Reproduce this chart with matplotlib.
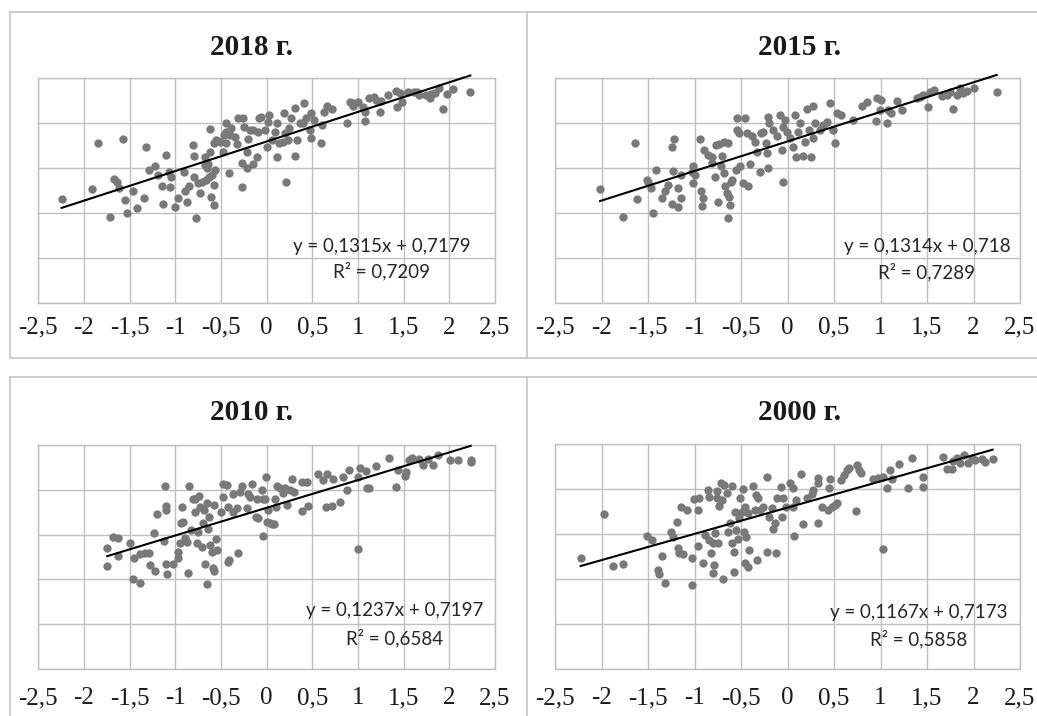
import numpy as np
import matplotlib.pyplot as plt
from matplotlib.lines import Line2D

plt.rcParams['font.family'] = ['Liberation Serif', 'DejaVu Serif']

# axis ticks (the source uses comma decimals)
x_ticks = [-2.5, -2, -1.5, -1, -0.5, 0, 0.5, 1, 1.5, 2, 2.5]
x_tick_labels = ['-2,5', '-2', '-1,5', '-1', '-0,5', '0', '0,5', '1', '1,5', '2', '2,5']
y_grid = [0, 0.2, 0.4, 0.6, 0.8, 1.0]

titles = ['2018 г.', '2015 г.', '2010 г.', '2000 г.']
slopes = [0.1315, 0.1314, 0.1237, 0.1167]
intercepts = [0.7179, 0.718, 0.7197, 0.7173]
eq_texts = ['y = 0,1315x + 0,7179', 'y = 0,1314x + 0,718',
            'y = 0,1237x + 0,7197', 'y = 0,1167x + 0,7173']
r2_texts = ['R² = 0,7209', 'R² = 0,7289', 'R² = 0,6584', 'R² = 0,5858']

x_2018 = [-2.245, -1.91, -1.85, -1.715, -1.67, -1.635, -1.62, -1.577, -1.55, -1.53,
          -1.46, -1.42, -1.34, -1.32, -1.29, -1.22, -1.19, -1.15, -1.14, -1.10,
          -1.066, -1.06, -1.05, -1.0, -0.97, -0.90, -0.89, -0.87, -0.854, -0.81,
          -0.80, -0.80, -0.77, -0.756, -0.73, -0.71, -0.68, -0.68, -0.66, -0.64,
          -0.62, -0.62, -0.61, -0.60, -0.58, -0.58, -0.565, -0.555, -0.58, -0.51,
          -0.475, -0.45, -0.44, -0.44, -0.41, -0.40, -0.32, -0.31, -0.27, -0.27,
          -0.26, -0.25, -0.22, -0.21, -0.18, -0.15, -0.146, -0.11, -0.09, -0.08,
          -0.06, -0.02, 0.0, 0.02, 0.03, 0.055, 0.09, 0.11, 0.117, 0.175,
          0.19, 0.20, 0.21, 0.23, 0.27, 0.31, 0.31, 0.33, 0.36, 0.41,
          0.43, 0.47, 0.49, 0.49, 0.52, 0.59, 0.61, 0.63, 0.66, 0.71,
          0.876, 0.91, 0.94, 1.0, 1.06, 1.08, 1.08, 1.12, 1.17, 1.20,
          1.24, 1.33, 1.42, 1.43, 1.46, 1.48, 1.61, 1.67, 1.75, 1.79,
          1.84, 1.89, 1.93, 1.97, 2.04, 2.23,
          -0.53, -0.47, -0.39, -0.35, -0.2, 0.13, 0.25, 0.4, 1.55, 1.8,
          1.65, 1.25, 0.95, -0.65, -0.63]
y_2018 = [0.463, 0.506, 0.71, 0.382, 0.552, 0.54, 0.51, 0.729, 0.46, 0.402,
          0.497, 0.423, 0.467, 0.692, 0.59, 0.611, 0.567, 0.522, 0.439, 0.658,
          0.584, 0.515, 0.559, 0.426, 0.466, 0.581, 0.496, 0.448, 0.521, 0.703,
          0.655, 0.562, 0.377, 0.533, 0.488, 0.536, 0.651, 0.614, 0.547, 0.618,
          0.772, 0.673, 0.473, 0.57, 0.436, 0.525, 0.589, 0.725, 0.71, 0.717,
          0.673, 0.713, 0.799, 0.762, 0.58, 0.747, 0.706, 0.821, 0.624, 0.515,
          0.821, 0.784, 0.673, 0.599, 0.769, 0.617, 0.769, 0.651, 0.762, 0.821,
          0.828, 0.769, 0.695, 0.806, 0.836, 0.725, 0.762, 0.651, 0.799, 0.717,
          0.843, 0.754, 0.54, 0.725, 0.821, 0.654, 0.865, 0.725, 0.799, 0.888,
          0.821, 0.769, 0.843, 0.732, 0.814, 0.71, 0.791, 0.85, 0.876, 0.861,
          0.799, 0.895, 0.876, 0.895, 0.873, 0.85, 0.809, 0.91, 0.917, 0.902,
          0.85, 0.925, 0.944, 0.87, 0.932, 0.895, 0.939, 0.925, 0.925, 0.913,
          0.932, 0.954, 0.861, 0.928, 0.95, 0.939,
          0.72, 0.745, 0.78, 0.74, 0.73, 0.71, 0.78, 0.8, 0.94, 0.93,
          0.94, 0.9, 0.89, 0.6, 0.56]

x_2015 = [-2.016, -1.77, -1.64, -1.62, -1.514, -1.50, -1.47, -1.45, -1.414, -1.35,
          -1.317, -1.28, -1.245, -1.24, -1.23, -1.217, -1.18, -1.174, -1.145, -1.14,
          -1.03, -1.02, -1.02, -0.995, -0.94, -0.934, -0.923, -0.905, -0.898, -0.85,
          -0.815, -0.815, -0.78, -0.77, -0.744, -0.733, -0.72, -0.708, -0.683, -0.68,
          -0.67, -0.654, -0.643, -0.636, -0.63, -0.618, -0.61, -0.593, -0.554, -0.547,
          -0.54, -0.518, -0.51, -0.482, -0.457, -0.44, -0.42, -0.403, -0.385, -0.35,
          -0.33, -0.296, -0.29, -0.26, -0.23, -0.224, -0.213, -0.206, -0.195, -0.152,
          -0.117, -0.08, -0.063, -0.052, -0.045, -0.027, -0.009, 0.027, 0.063, 0.084,
          0.09, 0.116, 0.134, 0.17, 0.188, 0.206, 0.235, 0.252, 0.27, 0.278,
          0.296, 0.35, 0.385, 0.42, 0.457, 0.493, 0.51, 0.53, 0.57, 0.708,
          0.797, 0.85, 0.95, 0.966, 0.995, 1.01, 1.066, 1.084, 1.11, 1.174,
          1.23, 1.39, 1.425, 1.46, 1.51, 1.53, 1.57, 1.66, 1.71, 1.75,
          1.78, 1.82, 1.85, 1.89, 1.93, 2.005, 2.25]
y_2015 = [0.506, 0.382, 0.71, 0.463, 0.547, 0.536, 0.51, 0.402, 0.592, 0.466,
          0.50, 0.525, 0.441, 0.692, 0.587, 0.729, 0.51, 0.426, 0.567, 0.466,
          0.584, 0.609, 0.533, 0.57, 0.728, 0.496, 0.429, 0.466, 0.678, 0.658,
          0.651, 0.621, 0.562, 0.703, 0.447, 0.706, 0.607, 0.654, 0.717, 0.577,
          0.518, 0.488, 0.377, 0.71, 0.473, 0.436, 0.536, 0.547, 0.592, 0.769,
          0.821, 0.754, 0.607, 0.533, 0.821, 0.754, 0.518, 0.618, 0.743, 0.717,
          0.673, 0.581, 0.754, 0.762, 0.71, 0.666, 0.599, 0.828, 0.799, 0.769,
          0.743, 0.836, 0.68, 0.54, 0.784, 0.814, 0.762, 0.732, 0.695, 0.836,
          0.651, 0.762, 0.799, 0.654, 0.717, 0.861, 0.769, 0.651, 0.876, 0.732,
          0.799, 0.769, 0.791, 0.806, 0.888, 0.769, 0.71, 0.843, 0.836, 0.814,
          0.876, 0.895, 0.811, 0.91, 0.858, 0.902, 0.799, 0.858, 0.843, 0.899,
          0.858, 0.91, 0.914, 0.925, 0.873, 0.939, 0.947, 0.92, 0.925, 0.939,
          0.861, 0.925, 0.954, 0.932, 0.944, 0.954, 0.939]

x_2010 = [-1.745, -1.745, -1.68, -1.624, -1.624, -1.50, -1.467, -1.45, -1.387, -1.387,
          -1.33, -1.29, -1.277, -1.23, -1.223, -1.197, -1.124, -1.113, -1.105, -1.105,
          -1.105, -1.095, -1.02, -0.974, -0.967, -0.949, -0.938, -0.93, -0.92, -0.894,
          -0.876, -0.858, -0.847, -0.832, -0.81, -0.785, -0.785, -0.766, -0.75, -0.74,
          -0.73, -0.71, -0.70, -0.686, -0.675, -0.657, -0.65, -0.64, -0.628, -0.62,
          -0.60, -0.584, -0.573, -0.573, -0.555, -0.54, -0.50, -0.482, -0.482, -0.438,
          -0.427, -0.42, -0.41, -0.365, -0.365, -0.32, -0.31, -0.292, -0.274, -0.22,
          -0.20, -0.183, -0.164, -0.117, -0.102, -0.09, -0.055, -0.043, -0.036, -0.018,
          -0.01, 0.0, 0.01, 0.036, 0.055, 0.08, 0.09, 0.10, 0.11, 0.146,
          0.175, 0.20, 0.22, 0.26, 0.274, 0.30, 0.383, 0.39, 0.438, 0.456,
          0.566, 0.62, 0.65, 0.657, 0.71, 0.73, 0.80, 0.84, 0.876, 0.905,
          1.004, 1.004, 1.02, 1.087, 1.095, 1.124, 1.197, 1.343, 1.416, 1.44,
          1.514, 1.53, 1.562, 1.59, 1.67, 1.715, 1.77, 1.825, 1.88, 2.007,
          2.1, 2.234, 2.234]
y_2010 = [0.539, 0.46, 0.59, 0.586, 0.504, 0.564, 0.401, 0.497, 0.383, 0.512,
          0.516, 0.516, 0.464, 0.608, 0.439, 0.69, 0.573, 0.816, 0.727, 0.709,
          0.467, 0.424, 0.467, 0.524, 0.494, 0.561, 0.65, 0.724, 0.657, 0.583,
          0.568, 0.427, 0.816, 0.62, 0.757, 0.761, 0.702, 0.561, 0.613, 0.772,
          0.724, 0.546, 0.65, 0.709, 0.467, 0.378, 0.739, 0.623, 0.68, 0.553,
          0.524, 0.45, 0.438, 0.734, 0.579, 0.531, 0.702, 0.825, 0.769, 0.82,
          0.724, 0.479, 0.487, 0.78, 0.702, 0.72, 0.519, 0.791, 0.816, 0.717,
          0.783, 0.769, 0.828, 0.68, 0.761, 0.672, 0.801, 0.761, 0.595, 0.761,
          0.858, 0.657, 0.709, 0.65, 0.647, 0.647, 0.758, 0.724, 0.816, 0.806,
          0.786, 0.806, 0.731, 0.798, 0.846, 0.791, 0.835, 0.706, 0.835, 0.727,
          0.872, 0.843, 0.724, 0.872, 0.727, 0.85, 0.746, 0.858, 0.798, 0.89,
          0.858, 0.536, 0.899, 0.883, 0.806, 0.806, 0.907, 0.944, 0.813, 0.887,
          0.86, 0.88, 0.932, 0.944, 0.939, 0.912, 0.939, 0.912, 0.954, 0.935,
          0.932, 0.932, 0.924]

x_2000 = [-2.224, -1.97, -1.873, -1.765, -1.507, -1.453, -1.396, -1.378, -1.353, -1.314,
          -1.256, -1.228, -1.185, -1.18, -1.163, -1.149, -1.127, -1.084, -1.03, -1.03,
          -1.005, -0.966, -0.959, -0.948, -0.905, -0.887, -0.851, -0.844, -0.84, -0.823,
          -0.806, -0.80, -0.79, -0.78, -0.762, -0.755, -0.744, -0.733, -0.719, -0.708,
          -0.697, -0.683, -0.654, -0.636, -0.618, -0.60, -0.593, -0.572, -0.572, -0.565,
          -0.554, -0.529, -0.518, -0.51, -0.49, -0.482, -0.468, -0.457, -0.457, -0.446,
          -0.428, -0.421, -0.41, -0.367, -0.35, -0.34, -0.332, -0.314, -0.296, -0.26,
          -0.224, -0.217, -0.195, -0.17, -0.16, -0.135, -0.124, -0.11, -0.073, -0.062,
          -0.052, -0.016, 0.027, 0.056, 0.063, 0.073, 0.09, 0.145, 0.17, 0.206,
          0.26, 0.278, 0.324, 0.33, 0.33, 0.375, 0.44, 0.45, 0.457, 0.475,
          0.51, 0.53, 0.58, 0.61, 0.636, 0.665, 0.737, 0.75, 0.772, 0.787,
          0.916, 0.977, 1.03, 1.03, 1.066, 1.10, 1.12, 1.202, 1.30, 1.335,
          1.453, 1.46, 1.668, 1.71, 1.765, 1.783, 1.82, 1.855, 1.898, 1.944,
          1.98, 2.016, 2.088, 2.12, 2.206]
y_2000 = [0.495, 0.687, 0.458, 0.465, 0.591, 0.573, 0.44, 0.422, 0.502, 0.381,
          0.607, 0.588, 0.655, 0.536, 0.514, 0.721, 0.51, 0.707, 0.492, 0.373,
          0.754, 0.707, 0.547, 0.759, 0.47, 0.596, 0.796, 0.573, 0.766, 0.514,
          0.559, 0.425, 0.462, 0.603, 0.793, 0.759, 0.561, 0.724, 0.825, 0.751,
          0.399, 0.818, 0.781, 0.61, 0.65, 0.559, 0.813, 0.433, 0.521, 0.699,
          0.618, 0.576, 0.67, 0.759, 0.699, 0.799, 0.61, 0.721, 0.47, 0.588,
          0.692, 0.455, 0.529, 0.813, 0.707, 0.773, 0.484, 0.759, 0.707, 0.721,
          0.521, 0.855, 0.677, 0.714, 0.621, 0.647, 0.517, 0.759, 0.807, 0.677,
          0.759, 0.721, 0.825, 0.803, 0.721, 0.593, 0.751, 0.867, 0.643, 0.759,
          0.778, 0.796, 0.647, 0.847, 0.828, 0.719, 0.707, 0.803, 0.843, 0.721,
          0.729, 0.736, 0.84, 0.862, 0.884, 0.892, 0.704, 0.907, 0.884, 0.87,
          0.843, 0.847, 0.855, 0.533, 0.803, 0.884, 0.843, 0.911, 0.803, 0.936,
          0.81, 0.852, 0.941, 0.887, 0.887, 0.926, 0.936, 0.914, 0.951, 0.914,
          0.936, 0.929, 0.932, 0.921, 0.932]

xs = [x_2018, x_2015, x_2010, x_2000]
ys = [y_2018, y_2015, y_2010, y_2000]

W, H = 1037, 716
fig = plt.figure(figsize=(W / 100, H / 100), dpi=100)

# plot areas in pixels: left, top, right, bottom
boxes = [(38.3, 78, 495, 303), (555, 78, 1020, 303),
         (38.3, 445, 495, 669), (555, 444, 1020, 669)]
title_pos = [(252, 55), (800, 55), (252, 420), (800, 420)]
eq_pos = [(1.26, 0.249, 0.142), (1.50, 0.249, 0.138),
          (1.40, 0.263, 0.138), (1.41, 0.253, 0.133)]
pads = [10, 10, 13, 13]

grid_c = '#bfbfbf'
for i in range(4):
    l, t, r, b = boxes[i]
    ax = fig.add_axes([l / W, 1 - b / H, (r - l) / W, (b - t) / H])
    ax.set_xlim(-2.5, 2.5)
    ax.set_ylim(0, 1)
    ax.set_xticks(x_ticks)
    ax.set_xticklabels(x_tick_labels)
    ax.set_yticks(y_grid)
    ax.set_yticklabels([])
    ax.tick_params(length=0, pad=pads[i], labelsize=18, labelcolor='#1a1a1a')
    ax.grid(True, color=grid_c, lw=1.0)
    ax.set_axisbelow(True)
    for s in ax.spines.values():
        s.set_color(grid_c)
        s.set_linewidth(1.0)

    ax.scatter(xs[i], ys[i], s=36, color='#797979', linewidths=0, zorder=3)
    xl = np.array([min(xs[i]), max(xs[i])])
    ax.plot(xl, slopes[i] * xl + intercepts[i], color='black', lw=1.5,
            zorder=4, clip_on=False)

    ex, ey1, ey2 = eq_pos[i]
    ax.text(ex, ey1, eq_texts[i], family='Lato', fontsize=13.5,
            ha='center', va='center', color='#262626', zorder=5)
    ax.text(ex, ey2, r2_texts[i], family='Lato', fontsize=13.5,
            ha='center', va='center', color='#262626', zorder=5)

    tx, ty = title_pos[i]
    fig.text(tx / W, 1 - ty / H, titles[i], fontweight='bold', fontsize=21,
             ha='center', va='baseline', color='#1a1a1a')

# chart frames
frame_c = '#c6c6c6'
def hline(y, x0, x1):
    fig.add_artist(Line2D([x0 / W, x1 / W], [1 - y / H, 1 - y / H],
                          color=frame_c, lw=1.2))

def vline(x, y0, y1):
    fig.add_artist(Line2D([x / W, x / W], [1 - y0 / H, 1 - y1 / H],
                          color=frame_c, lw=1.2))

hline(12, 10, W)
hline(358, 10, W)
hline(377, 10, W)
vline(10, 12, 358)
vline(527, 12, 358)
vline(10, 377, H)
vline(527, 377, H)

fig.savefig('out.png', dpi=100)
